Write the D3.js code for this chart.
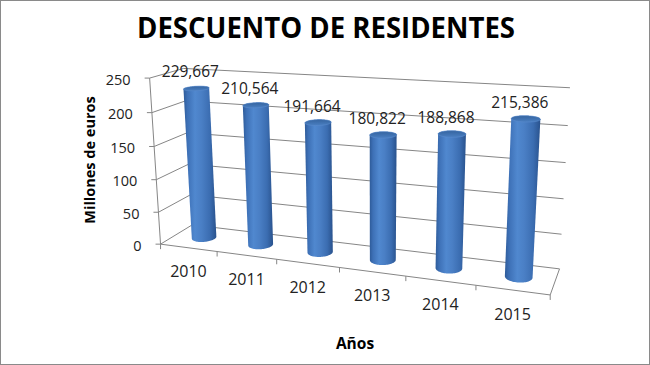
<!DOCTYPE html>
<html>
<head>
<meta charset="utf-8">
<script src="https://cdn.jsdelivr.net/npm/d3@7"></script>
<style>
  html, body { margin: 0; padding: 0; background: #fff; }
  svg { display: block; font-family: "Open Sans", sans-serif; }
</style>
</head>
<body>
<svg id="chart" width="650" height="365"></svg>
<script>
// ---- data ----
const years = ['2010', '2011', '2012', '2013', '2014', '2015'];
const values = [229.667, 210.564, 191.664, 180.822, 188.868, 215.386];
const valueLabels = ['229,667', '210,564', '191,664', '180,822', '188,868', '215,386'];
const yTicks = [0, 50, 100, 150, 200, 250];

const W = 650, H = 365;
const svg = d3.select('#chart');

// unit cube: X across categories, Y up the value axis, Z from front (0) to back wall (1)
const xBand = d3.scaleBand().domain(years).range([0, 1]);
const yVal = d3.scaleLinear().domain([0, 250]).range([0, 1]);

// where some corners of the 3D box land on screen
const anchors = [
  [[0, 0, 0], [161, 246]], [[0, 1, 0], [150, 77]],
  [[0, 0, 1], [192, 224]], [[0, 1, 1], [182, 71]],
  [[1, 0, 1], [560, 267]], [[1, 1, 1], [570, 89]],
  [[1, 0, 0], [550, 294]],
  [[1 / 6, 0, 0], [218, 253]], [[2 / 6, 0, 0], [277, 260]], [[3 / 6, 0, 0], [338, 268]],
  [[4 / 6, 0, 0], [405, 277]], [[5 / 6, 0, 0], [475, 287]],
  [[0, 0.2, 0], [158.8, 212]], [[0, 0.4, 0], [156.6, 178]], [[0, 0.6, 0], [154.4, 145]], [[0, 0.8, 0], [152.2, 111]],
  [[1, 0.2, 1], [562, 233]], [[1, 0.4, 1], [564, 198]], [[1, 0.6, 1], [566, 162]], [[1, 0.8, 1], [568, 127]]
];

// perspective camera fitted to the anchors (3x4 projective matrix, least squares)
function fitCamera(pairs) {
  const rows = [], rhs = [];
  pairs.forEach(([[X, Y, Z], [u, v]]) => {
    u = (u - 350) / 200; v = (v - 180) / 200;
    rows.push([X, Y, Z, 1, 0, 0, 0, 0, -u * X, -u * Y, -u * Z]); rhs.push(u);
    rows.push([0, 0, 0, 0, X, Y, Z, 1, -v * X, -v * Y, -v * Z]); rhs.push(v);
  });
  const n = 11;
  const M = d3.range(n).map(() => new Array(n + 1).fill(0));
  rows.forEach((r, k) => {
    for (let i = 0; i < n; i++) {
      for (let j = 0; j < n; j++) M[i][j] += r[i] * r[j];
      M[i][n] += r[i] * rhs[k];
    }
  });
  for (let c = 0; c < n; c++) {
    let p = c;
    for (let r = c + 1; r < n; r++) if (Math.abs(M[r][c]) > Math.abs(M[p][c])) p = r;
    [M[c], M[p]] = [M[p], M[c]];
    for (let r = 0; r < n; r++) {
      if (r === c) continue;
      const f = M[r][c] / M[c][c];
      for (let j = c; j <= n; j++) M[r][j] -= f * M[c][j];
    }
  }
  const p = M.map((row, i) => row[n] / row[i]);
  return ([X, Y, Z]) => {
    const w = p[8] * X + p[9] * Y + p[10] * Z + 1;
    return [(p[0] * X + p[1] * Y + p[2] * Z + p[3]) / w * 200 + 350,
            (p[4] * X + p[5] * Y + p[6] * Z + p[7]) / w * 200 + 180];
  };
}
const proj = fitCamera(anchors);
const seg = (a, b) => { const p = proj(a), q = proj(b); return `M${p[0]},${p[1]}L${q[0]},${q[1]}`; };

// background + outer border
svg.append('rect').attr('x', 0.5).attr('y', 0.5).attr('width', W - 1).attr('height', H - 1)
  .attr('fill', '#fff').attr('stroke', '#8a8a8a');

// gradients for the cylinders
const defs = svg.append('defs');
const body = defs.append('linearGradient').attr('id', 'cylBody').attr('x1', 0).attr('x2', 1).attr('y1', 0).attr('y2', 0);
[[0, '#2e5b99'], [0.12, '#3d70b6'], [0.35, '#5088cf'], [0.55, '#4a7fc5'], [0.8, '#3b6db1'], [1, '#29528d']]
  .forEach(([o, c]) => body.append('stop').attr('offset', o).attr('stop-color', c));
const cap = defs.append('linearGradient').attr('id', 'cylCap').attr('x1', 0).attr('x2', 0).attr('y1', 0).attr('y2', 1);
[[0, '#35649f'], [1, '#4a7fc2']].forEach(([o, c]) => cap.append('stop').attr('offset', o).attr('stop-color', c));

// walls: gridlines on back wall and left wall, floor outline
const grid = svg.append('g').attr('stroke', '#868686').attr('stroke-width', 1).attr('fill', 'none');
yTicks.forEach(t => {
  const y = yVal(t);
  grid.append('path').attr('d', seg([0, y, 1], [1, y, 1]));
  grid.append('path').attr('d', seg([0, y, 0], [0, y, 1]));
});
grid.append('path').attr('d', seg([0, 0, 0], [1, 0, 0]));
grid.append('path').attr('d', seg([1, 0, 0], [1, 0, 1]));
grid.append('path').attr('d', seg([0, 0, 0], [0, 1, 0]));

// value axis ticks + labels
yTicks.forEach(t => {
  const [px, py] = proj([0, yVal(t), 0]);
  grid.append('path').attr('d', `M${px - 5},${py}L${px},${py}`);
  svg.append('text').attr('x', px - 19).attr('y', py + 1)
    .attr('text-anchor', 'end').attr('dominant-baseline', 'central')
    .attr('font-size', 14.5).attr('fill', '#222').text(t);
});

// category ticks at band edges + labels
d3.range(years.length + 1).forEach(k => {
  const [px, py] = proj([k / years.length, 0, 0]);
  grid.append('path').attr('d', `M${px},${py}L${px},${py + 5}`);
});
years.forEach(yr => {
  const [px, py] = proj([xBand(yr) + xBand.bandwidth() / 2, 0, 0]);
  svg.append('text').attr('x', px).attr('y', py + 23.5)
    .attr('text-anchor', 'middle').attr('dominant-baseline', 'central')
    .attr('font-size', 16).attr('fill', '#222').text(yr);
});

// cylinders
const rX = 0.19 * xBand.bandwidth(), rZ = 0.21, zc = 0.5;
const angles = d3.range(0, 2 * Math.PI, Math.PI / 36);
years.forEach((yr, i) => {
  const cx = xBand(yr) + xBand.bandwidth() / 2;
  const top = yVal(values[i]);
  const ring = y => angles.map(a => proj([cx + rX * Math.cos(a), y, zc + rZ * Math.sin(a)]));
  const bottomRing = ring(0), topRing = ring(top);
  const hull = d3.polygonHull(bottomRing.concat(topRing));
  svg.append('path').attr('d', 'M' + hull.join('L') + 'Z').attr('fill', 'url(#cylBody)');
  svg.append('path').attr('d', 'M' + topRing.join('L') + 'Z').attr('fill', 'url(#cylCap)')
    .attr('stroke', '#5a8ccc').attr('stroke-width', 0.6);

  const [tx, ty] = proj([cx, top, zc]);
  svg.append('text').attr('x', tx - 6).attr('y', ty - 17)
    .attr('text-anchor', 'middle').attr('dominant-baseline', 'central')
    .attr('font-size', 15.5).attr('fill', '#222').text(valueLabels[i]);
});

// titles
svg.append('text').attr('x', 326).attr('y', 38).attr('text-anchor', 'middle')
  .attr('font-size', 29).attr('font-weight', 700).attr('fill', '#000')
  .attr('textLength', 378).attr('lengthAdjust', 'spacingAndGlyphs')
  .text('DESCUENTO DE RESIDENTES');
svg.append('text').attr('transform', 'translate(89,160) rotate(-90)')
  .attr('text-anchor', 'middle').attr('dominant-baseline', 'central')
  .attr('font-size', 14.5).attr('font-weight', 700).attr('fill', '#000')
  .text('Millones de euros');
svg.append('text').attr('x', 355).attr('y', 343)
  .attr('text-anchor', 'middle').attr('dominant-baseline', 'central')
  .attr('font-size', 15.5).attr('font-weight', 700).attr('fill', '#000')
  .text('Años');
</script>
</body>
</html>
